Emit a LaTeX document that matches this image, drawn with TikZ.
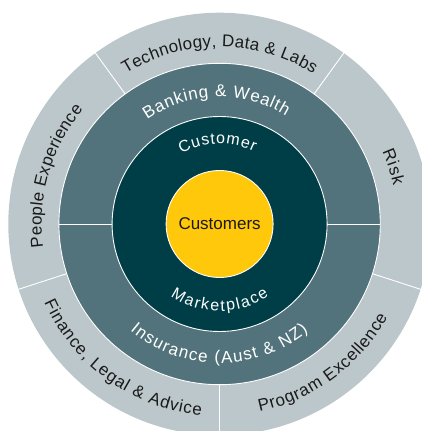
\documentclass[tikz,border=0pt]{standalone}
\usepackage{fontspec}
\setmainfont{Liberation Sans}
\usetikzlibrary{decorations.text}
\definecolor{outerc}{HTML}{BCC7CC}
\definecolor{midc}{HTML}{52737B}
\definecolor{darkc}{HTML}{003E47}
\definecolor{yelc}{HTML}{FFC80A}
\definecolor{txtc}{HTML}{1A1A1A}
\newcommand\ofont{\fontsize{17}{17}\selectfont\color{txtc}}
\newcommand\wfont{\fontsize{17}{17}\selectfont\color{white}}
\newcommand\ifont{\fontsize{16}{16}\selectfont\color{white}}
\tikzset{
  ringline/.style={draw=white, line width=0.9pt},
  sepline/.style={draw=white, line width=0.9pt},
  curvedtext/.style={decorate, decoration={text along path, text align=fit to path}},
}
\begin{document}
\begin{tikzpicture}
\useasboundingbox (-219.6pt,-207pt) rectangle (202.4pt,224pt);
% rings
\fill[outerc] (0,0) circle[radius=211.3pt];
\draw[ringline, fill=midc] (0,0) circle[radius=160.7pt];
\draw[ringline, fill=darkc] (0,0) circle[radius=107.5pt];
\draw[ringline, fill=yelc] (0,0) circle[radius=53.5pt];
% separators
\foreach \a in {126,54,-18,-90,198}
  \draw[sepline] (\a:160.7pt) -- (\a:212pt);
\draw[sepline] (0:107.5pt) -- (0:160.7pt);
\draw[sepline] (180:107.5pt) -- (180:160.7pt);
% outer texts
\path[curvedtext, decoration={text={|\ofont|Technology, Data {\&} Labs}}]
  (122:177pt) arc[start angle=122, end angle=58, radius=177pt];
\path[curvedtext, decoration={text={|\ofont|Risk}}]
  (24:178pt) arc[start angle=24, end angle=12.5, radius=178pt];
\path[curvedtext, decoration={text={|\ofont|People Experience}}]
  (187.5:178pt) arc[start angle=187.5, end angle=140, radius=178pt];
\path[curvedtext, decoration={text={|\ofont|Finance, Legal {\&} Advice}}]
  (204:192pt) arc[start angle=204, end angle=264.5, radius=192pt];
\path[curvedtext, decoration={text={|\ofont|Program Excellence}}]
  (-78:192pt) arc[start angle=-78, end angle=-29, radius=192pt];
% middle ring texts
\path[curvedtext, decoration={text={|\wfont|Banking {\&} Wealth}}]
  (124.7:127pt) arc[start angle=124.7, end angle=58.5, radius=127pt];
\path[curvedtext, decoration={text={|\wfont|Insurance (Aust {\&} NZ)}}]
  (229.9:139pt) arc[start angle=229.9, end angle=309.6, radius=139pt];
% inner ring texts
\path[curvedtext, decoration={text={|\ifont|Customer}}]
  (118.5:80pt) arc[start angle=118.5, end angle=64.5, radius=80pt];
\path[curvedtext, decoration={text={|\ifont|Marketplace}}]
  (235.7:87pt) arc[start angle=235.7, end angle=304.6, radius=87pt];
% centre
\node[font=\fontsize{17}{17}\selectfont, text=txtc] (centre) at (0,0) {Customers};
\end{tikzpicture}
\end{document}
